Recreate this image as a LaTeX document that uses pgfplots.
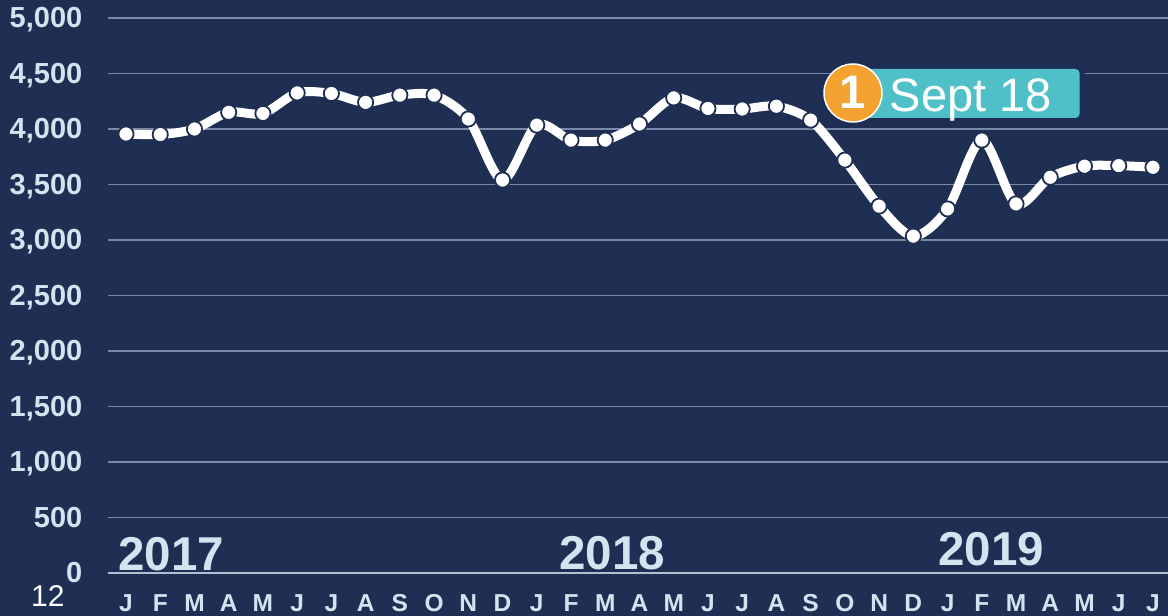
\documentclass[border=0pt]{standalone}
\usepackage{pgfplots}
\pgfplotsset{compat=1.18}
\usepackage{fontspec}
\setmainfont{Liberation Sans}
\definecolor{bg}{HTML}{1F2F53}
\definecolor{gridc}{HTML}{7A8AA6}
\definecolor{zeroc}{HTML}{B4C0D2}
\definecolor{txt}{HTML}{D3E3F0}
\definecolor{teal}{HTML}{50C0C8}
\definecolor{orange1}{HTML}{F4A330}
\newcommand{\fs}[1]{\fontsize{#1bp}{#1bp}\selectfont}
\begin{document}
\begin{tikzpicture}[x=1bp,y=1bp]
\fill[bg,use as bounding box] (0,0) rectangle (1168,616);
\begin{axis}[
  at={(108bp,43bp)},anchor=south west,
  scale only axis,width=1060bp,height=555bp,
  xmin=-0.526,xmax=30.44,ymin=0,ymax=5000,
  axis x line=bottom,axis y line=left,
  x axis line style={draw=zeroc,line width=1.8bp,-},
  y axis line style={draw=none},
  ymajorgrids,grid style={draw=gridc,line width=1.9bp},
  major tick length=0pt,
  ytick={0,500,...,5000},
  xtick={0,...,30},
  xticklabels={J,F,M,A,M,J,J,A,S,O,N,D,J,F,M,A,M,J,J,A,S,O,N,D,J,F,M,A,M,J,J},
  /pgf/number format/assume math mode=true,
  /pgf/number format/1000 sep={,},
  yticklabel style={font=\fs{29}\bfseries,text=txt,anchor=east,inner xsep=0pt,inner ysep=0pt,text height=20bp,text depth=0pt,xshift=-25.5bp},
  xticklabel style={font=\fs{24.5}\bfseries,text=txt,anchor=north,inner ysep=0pt,text height=19bp,text depth=0pt,yshift=-19.5bp},
  clip=false,
]
\addplot[white,line width=9bp,smooth,mark=*,
  mark size=7.6bp,
  mark options={fill=white,draw=bg,line width=1.8bp,solid}] coordinates {
(0,3955)(1,3950)(2,4000)(3,4150)(4,4140)(5,4325)(6,4320)(7,4240)(8,4305)(9,4305)(10,4090)(11,3540)
(12,4035)(13,3900)(14,3900)(15,4045)(16,4280)(17,4185)(18,4180)(19,4205)(20,4080)(21,3720)(22,3305)(23,3035)
(24,3280)(25,3900)(26,3325)(27,3565)(28,3665)(29,3670)(30,3655)};
\end{axis}
\node[anchor=base west,inner sep=0pt,text=txt,font=\fs{47.5}\bfseries] at (118,45) {2017};
\node[anchor=base west,inner sep=0pt,text=txt,font=\fs{47.5}\bfseries] at (559,46) {2018};
\node[anchor=base west,inner sep=0pt,text=txt,font=\fs{47.5}\bfseries] at (938,50) {2019};
\node[anchor=base west,inner sep=0pt,text=white,font=\fs{30}] at (31,9) {12};
\fill[bg] (860,493) rectangle (1085,552);
\fill[teal,rounded corners=4bp] (860,498) rectangle (1079.5,547);
\node[anchor=base west,inner sep=0pt,text=white,font=\fs{47}] at (889.5,504) {Sept 18};
\fill[orange1,draw=white,line width=1.5bp] (853,523) circle (29);
\node[anchor=base,inner sep=0pt,text=white,font=\fs{47}\bfseries] at (853,507) {1};
\end{tikzpicture}
\end{document}
